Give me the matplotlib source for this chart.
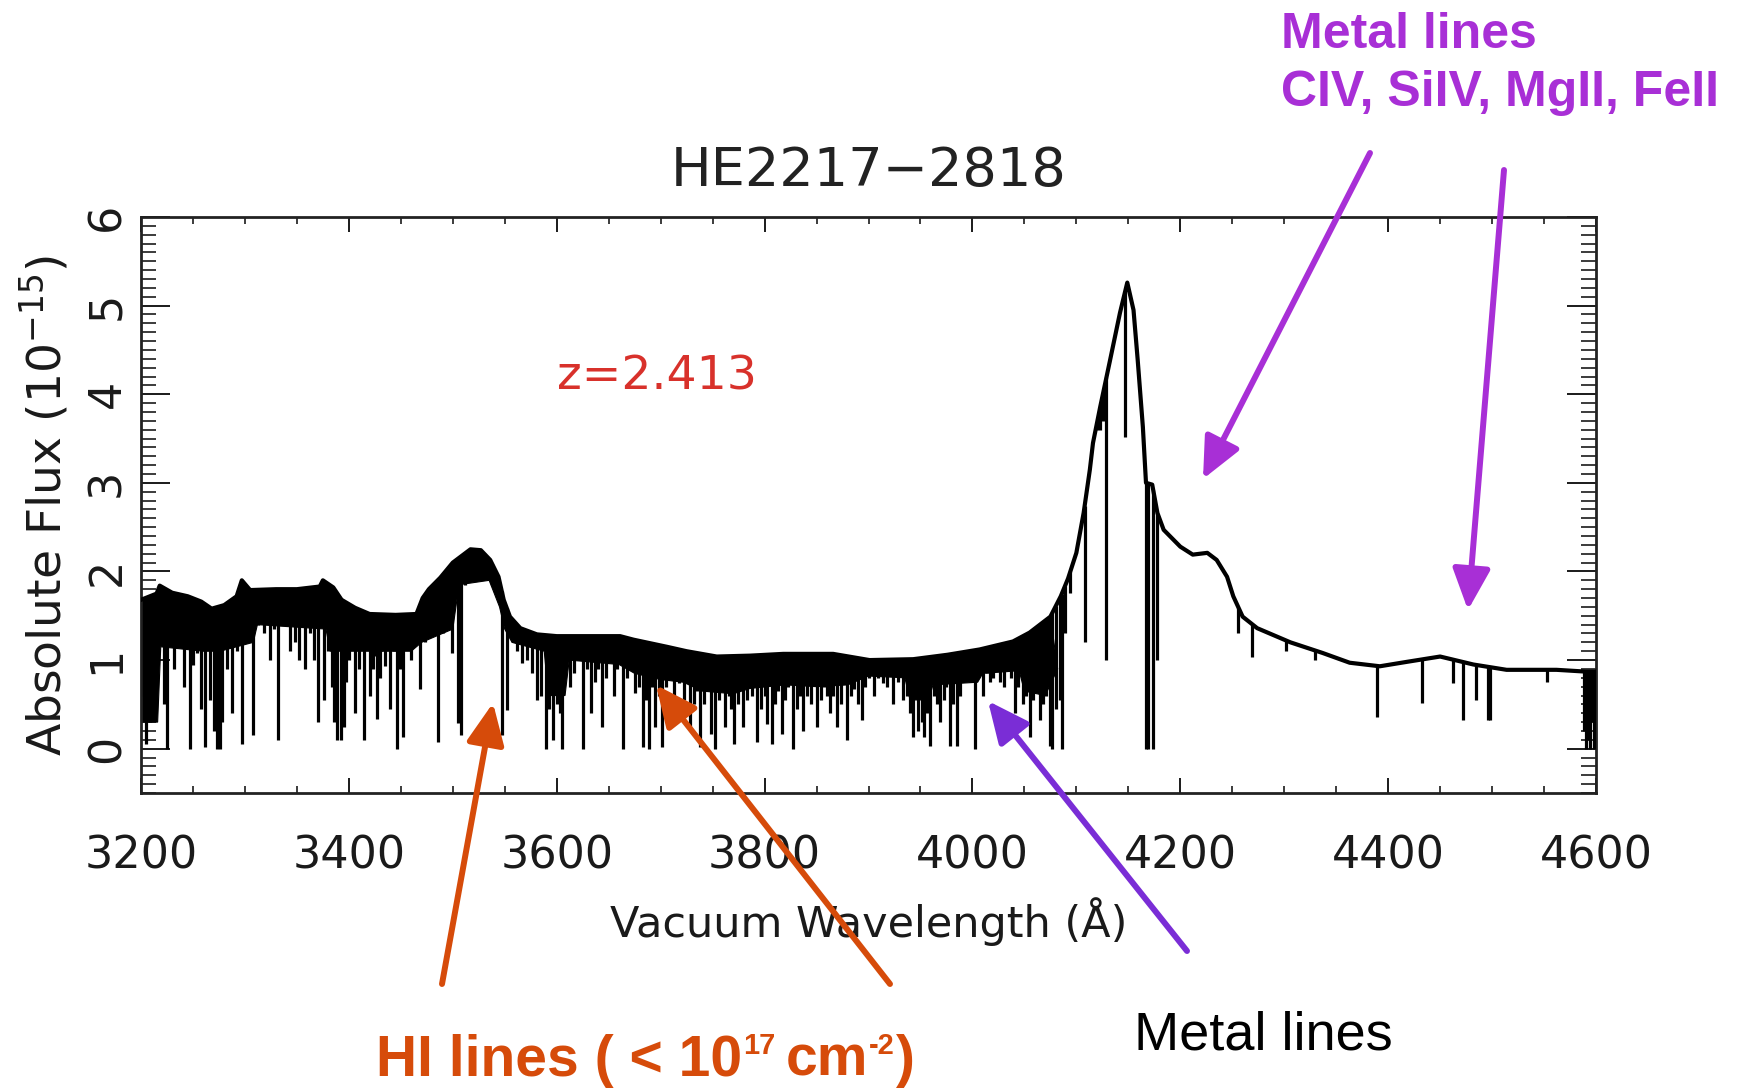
import numpy as np
import matplotlib
matplotlib.use('Agg')
import matplotlib.pyplot as plt
from matplotlib.ticker import MultipleLocator, FixedLocator

# ---------------- data ----------------
# upper envelope / continuum of the spectrum (wavelength in A, flux in 1e-15)
cont_wave = [3200, 3215, 3218, 3230, 3245, 3258, 3268, 3280, 3292, 3297, 3305, 3330,
             3350, 3372, 3375, 3385, 3393, 3406, 3420, 3445, 3465, 3471, 3477, 3488,
             3500, 3517, 3527, 3536, 3544, 3549, 3555, 3565, 3581, 3600, 3661, 3674,
             3706, 3725, 3754, 3786, 3818, 3866, 3901, 3943, 3976, 4007, 4039, 4055,
             4075, 4085, 4092, 4100, 4107, 4113, 4116, 4123, 4132, 4142, 4149, 4155,
             4159, 4164, 4167, 4173, 4178, 4184, 4200, 4212, 4226, 4235, 4245, 4251,
             4260, 4274, 4306, 4337, 4363, 4392, 4418, 4450, 4482, 4514, 4562, 4590,
             4600]
cont_flux = [1.68, 1.75, 1.84, 1.76, 1.72, 1.66, 1.58, 1.62, 1.72, 1.90, 1.79, 1.80,
             1.80, 1.83, 1.90, 1.82, 1.68, 1.59, 1.52, 1.51, 1.52, 1.70, 1.80, 1.93,
             2.10, 2.25, 2.24, 2.13, 1.94, 1.68, 1.49, 1.36, 1.29, 1.27, 1.27, 1.23,
             1.15, 1.10, 1.04, 1.05, 1.07, 1.07, 1.00, 1.01, 1.06, 1.12, 1.21, 1.31,
             1.49, 1.72, 1.92, 2.21, 2.66, 3.15, 3.45, 3.86, 4.36, 4.92, 5.26, 4.95,
             4.39, 3.63, 3.00, 2.98, 2.66, 2.47, 2.28, 2.19, 2.21, 2.13, 1.94, 1.72,
             1.49, 1.36, 1.20, 1.08, 0.97, 0.93, 0.98, 1.04, 0.95, 0.89, 0.89, 0.87,
             0.87]

# lower edge of the dense (blended) Lyman-alpha forest band
band_wave = [3200, 3216, 3219, 3260, 3276, 3308, 3312, 3378, 3382, 3400, 3460, 3470,
             3500, 3506, 3535, 3545, 3550, 3557, 3588, 3592, 3608, 3612, 3660, 3675,
             3700, 3722, 3740, 3770, 3786, 3820, 3850, 3880, 3900, 3935, 3940, 3958,
             3962, 4005, 4010, 4045, 4050, 4070, 4082]
band_flux = [0.30, 0.30, 1.15, 1.10, 1.10, 1.20, 1.40, 1.35, 1.10, 1.10, 1.10, 1.20,
             1.35, 1.85, 1.90, 1.60, 1.35, 1.20, 1.10, 0.60, 0.60, 1.00, 0.95, 0.85,
             0.78, 0.75, 0.65, 0.62, 0.68, 0.72, 0.70, 0.72, 0.82, 0.80, 0.55, 0.55,
             0.72, 0.75, 0.85, 0.88, 0.65, 0.60, 0.90]

# individual absorption lines: centre wavelength and minimum flux
line_wave = [3203, 3205, 3209, 3212, 3219, 3222, 3225, 3232, 3236, 3241, 3247, 3250,
             3254, 3258, 3262, 3266, 3270, 3273, 3276, 3278, 3283, 3288, 3292, 3297,
             3301, 3308, 3313, 3318, 3324, 3328, 3332, 3337, 3343, 3348, 3352, 3358,
             3363, 3366, 3370, 3376, 3380, 3384, 3386, 3389, 3392, 3395, 3397, 3400,
             3406, 3410, 3412, 3415, 3420, 3423, 3425, 3427, 3430, 3431, 3432, 3435,
             3440, 3443, 3446, 3449, 3452, 3456, 3460, 3464, 3468, 3473, 3479, 3482,
             3486, 3491, 3494, 3499, 3502, 3505, 3508, 3512, 3520, 3530, 3538, 3547,
             3552, 3558, 3562, 3567, 3571, 3576, 3581, 3585, 3590, 3593, 3596, 3600,
             3603, 3605, 3609, 3613, 3617, 3620, 3625, 3629, 3633, 3637, 3640, 3644,
             3647, 3650, 3655, 3658, 3664, 3668, 3671, 3675, 3679, 3683, 3686, 3689,
             3692, 3695, 3698, 3701, 3705, 3709, 3713, 3718, 3722, 3725, 3728, 3732,
             3735, 3738, 3742, 3745, 3748, 3752, 3756, 3759, 3762, 3766, 3768, 3771,
             3774, 3776, 3779, 3783, 3788, 3793, 3797, 3800, 3802, 3807, 3810, 3813,
             3817, 3820, 3823, 3827, 3831, 3834, 3837, 3841, 3845, 3850, 3854, 3857,
             3860, 3863, 3866, 3870, 3874, 3876, 3879, 3883, 3886, 3890, 3894, 3897,
             3900, 3905, 3909, 3914, 3918, 3921, 3924, 3928, 3933, 3937, 3940, 3943,
             3948, 3951, 3953, 3956, 3959, 3963, 3966, 3969, 3973, 3975, 3978, 3981,
             3985, 3988, 3991, 3994, 3998, 4002, 4005, 4010, 4014, 4017, 4020, 4024,
             4027, 4030, 4034, 4037, 4041, 4044, 4049, 4052, 4055, 4058, 4061, 4065,
             4068, 4071, 4075, 4077, 4080, 4084, 4086, 4089, 4094, 4108, 4120, 4123,
             4126, 4129, 4147, 4167, 4169, 4174, 4178, 4256, 4269, 4302, 4330, 4389,
             4433, 4462, 4472, 4485, 4496, 4498, 4553, 4588, 4590, 4592, 4594, 4596,
             4598, 4599]
line_flux = [0.60, 0.05, 0.30, 0.90, 1.25, 0.50, 0.00, 0.90, 1.20, 0.70, 0.00, 0.95,
             1.08, 0.45, 0.02, 0.55, 0.20, 0.00, 0.00, 0.30, 0.90, 0.40, 1.10, 0.05,
             1.30, 0.15, 1.40, 1.30, 1.00, 1.35, 0.10, 1.45, 1.10, 1.20, 1.00, 0.90,
             1.30, 1.00, 0.30, 0.55, 1.10, 0.70, 0.30, 0.10, 0.10, 0.25, 0.75, 1.00,
             0.40, 0.90, 1.20, 0.10, 0.60, 0.90, 1.05, 0.33, 0.80, 1.10, 1.20, 0.93,
             0.45, 1.10, 0.00, 0.90, 0.13, 1.20, 1.00, 1.30, 0.67, 1.20, 1.50, 1.40,
             0.08, 1.30, 1.60, 1.08, 1.80, 0.29, 0.16, 1.85, 2.00, 1.95, 1.85, 0.16,
             0.44, 1.20, 1.10, 0.97, 1.00, 0.85, 0.55, 0.60, 0.00, 0.45, 0.10, 0.50,
             0.40, 0.00, 0.90, 0.70, 0.85, 1.00, 0.00, 0.90, 0.40, 0.75, 0.90, 0.25,
             0.80, 1.04, 0.60, 0.90, 0.00, 0.80, 0.95, 0.63, 0.70, 0.02, 0.55, 0.00,
             0.70, 0.25, 0.60, 0.02, 0.70, 0.90, 0.60, 0.74, 0.55, 0.80, 0.21, 0.50,
             0.65, 0.02, 0.50, 0.70, 0.17, 0.00, 0.55, 0.70, 0.25, 0.60, 0.45, 0.05,
             0.50, 0.70, 0.25, 0.55, 0.60, 0.07, 0.45, 0.60, 0.28, 0.05, 0.50, 0.65,
             0.17, 0.55, 0.70, 0.00, 0.45, 0.60, 0.20, 0.60, 0.50, 0.25, 0.55, 0.70,
             0.60, 0.40, 0.60, 0.25, 0.50, 0.75, 0.10, 0.60, 0.67, 0.50, 0.32, 0.70,
             0.80, 0.60, 0.80, 0.74, 0.70, 0.85, 0.50, 0.75, 0.55, 0.60, 0.40, 0.13,
             0.20, 0.30, 0.13, 0.40, 0.03, 0.60, 0.50, 0.30, 0.55, 0.70, 0.03, 0.50,
             0.03, 0.60, 0.80, 0.78, 0.75, 0.00, 0.80, 0.59, 0.85, 0.75, 0.80, 0.90,
             0.75, 0.70, 0.90, 0.80, 0.40, 0.70, 0.50, 0.60, 0.13, 0.55, 0.70, 0.32,
             0.50, 0.60, 0.03, 0.00, 0.45, 0.55, 0.00, 1.30, 1.76, 1.20, 3.60, 3.60,
             3.70, 1.00, 3.52, 0.00, 0.00, 0.00, 1.00, 1.31, 1.04, 1.10, 1.00, 0.36,
             0.52, 0.74, 0.32, 0.55, 0.32, 0.32, 0.75, 0.20, 0.00, 0.10, 0.00, 0.30,
             0.00, 0.10]

xtick_values = [3200, 3400, 3600, 3800, 4000, 4200, 4400, 4600]
ytick_values = [0, 1, 2, 3, 4, 5, 6]

title_text = 'HE2217\u22122818'
redshift_text = 'z=2.413'

# ---------------- figure ----------------
W, H = 1744, 1090
fig = plt.figure(figsize=(W / 100, H / 100), dpi=100)
fig.patch.set_facecolor('white')
ax = fig.add_axes([141 / W, 1 - 793 / H, 1455 / W, 576 / H])

cw = np.array(cont_wave, float)
cf = np.array(cont_flux, float)
bw = np.array(band_wave, float)
bf = np.array(band_flux, float)
m = cw <= bw.max()
ax.fill(np.concatenate([cw[m], bw[::-1]]), np.concatenate([cf[m], bf[::-1]]),
        color='black', lw=0.8, zorder=2)
lwv = np.array(line_wave, float)
lfv = np.array(line_flux, float)
ax.vlines(lwv, lfv, np.interp(lwv, cw, cf), color='black', lw=2.3, zorder=3)
ax.plot(cw, cf, color='black', lw=3.0, zorder=4)

ax.set_xlim(3200, 4600)
ax.set_ylim(-0.5, 6)
ax.xaxis.set_major_locator(FixedLocator(xtick_values))
ax.yaxis.set_major_locator(FixedLocator(ytick_values))
ax.xaxis.set_minor_locator(MultipleLocator(50))
ax.yaxis.set_minor_locator(MultipleLocator(0.1))
ax.tick_params(which='both', direction='in', top=True, right=True, colors='#1a1a1a')
ax.tick_params(axis='x', which='major', length=11, width=1.4, pad=30, labelsize=32)
ax.tick_params(axis='x', which='minor', length=5, width=1.2)
ax.tick_params(axis='y', which='major', length=21, width=1.4, pad=9, labelsize=32)
ax.tick_params(axis='y', which='minor', length=11, width=1.2)
for lab in ax.get_yticklabels():
    lab.set_rotation(90)
    lab.set_va('center')
for sp in ax.spines.values():
    sp.set_linewidth(2.0)
    sp.set_color('#222222')

ax.set_xlabel('Vacuum Wavelength (\u00c5)', fontsize=31, labelpad=14, color='#1a1a1a')
ax.set_ylabel('Absolute Flux (10$^{-15}$)', fontsize=34, labelpad=10, color='#1a1a1a')
ax.set_title(title_text, fontsize=39, pad=22, color='#222222')
ax.text(3600, 4.19, redshift_text, fontsize=34, color='#d8312b', ha='left', va='center')

# ---------------- annotations (figure pixels) ----------------
PURPLE = '#a82fd6'
VIOLET = '#7a2dd6'
ORANGE = '#d64b0a'


def arrow(tail, tip, color):
    ax.annotate('', xy=tip, xytext=tail, xycoords='figure pixels',
                textcoords='figure pixels', annotation_clip=False,
                arrowprops=dict(arrowstyle='-|>,head_length=0.5,head_width=0.23',
                                mutation_scale=50, lw=4.3, color=color,
                                shrinkA=0, shrinkB=0))


arrow((1370, 937), (1203, 611), PURPLE)
arrow((1504, 920), (1468, 480), PURPLE)
arrow((1187, 139), (988, 389), VIOLET)
arrow((442, 106), (493, 387), ORANGE)
arrow((890, 106), (656, 405), ORANGE)

sans = ['Liberation Sans', 'DejaVu Sans']
fig.text(1281 / W, 1042 / H, 'Metal lines', fontsize=36, fontweight='bold',
         family=sans, color=PURPLE, ha='left', va='baseline')
fig.text(1281 / W, 984 / H, 'CIV, SiIV, MgII, FeII', fontsize=36, fontweight='bold',
         family=sans, color=PURPLE, ha='left', va='baseline')
fig.text(1134 / W, 41 / H, 'Metal lines', fontsize=39, family=sans,
         color='black', ha='left', va='baseline')

renderer = fig.canvas.get_renderer()
pieces = [('HI lines ( < 10', 41, 0, 0), ('17', 21, 22, 1), ('cm', 41, 0, 10),
          ('-2', 21, 22, 1), (')', 41, 0, 1)]
x = 376
base = 14
for s, size, dy, gap in pieces:
    x += gap
    t = fig.text(x / W, (base + dy) / H, s, fontsize=size, fontweight='bold', family=sans,
                 color=ORANGE, ha='left', va='baseline')
    x = t.get_window_extent(renderer).x1

fig.savefig('out.png', dpi=100, facecolor='white')
